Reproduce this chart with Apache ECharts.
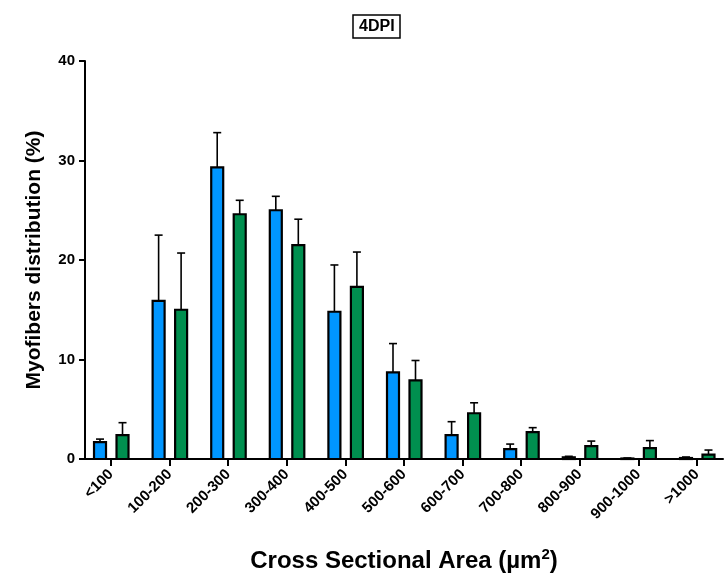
<!DOCTYPE html>
<html>
<head>
<meta charset="utf-8">
<script src="https://cdn.jsdelivr.net/npm/echarts@6/dist/echarts.min.js"></script>
<style>html,body{margin:0;padding:0;background:#fff}#c{width:727px;height:581px}</style>
</head>
<body>
<div id="c"></div>
<script>
var categories = ['<100','100-200','200-300','300-400','400-500','500-600','600-700','700-800','800-900','900-1000','>1000'];
var blueMean = [1.7, 15.9, 29.3, 25.0, 14.8, 8.7, 2.4, 1.0, 0.17, 0.05, 0.1];
var blueSD   = [0.3, 6.6, 3.5, 1.4, 4.7, 2.9, 1.35, 0.5, 0.1, 0.05, 0.1];
var greenMean = [2.4, 15.0, 24.6, 21.5, 17.3, 7.9, 4.6, 2.7, 1.3, 1.1, 0.43];
var greenSD   = [1.25, 5.7, 1.4, 2.6, 3.5, 2.0, 1.05, 0.45, 0.5, 0.75, 0.47];
var yTicks = [0, 10, 20, 30, 40];

var BLUE = '#0096FF', GREEN = '#008F4F';
var FONT = 'Liberation Sans, Arial, sans-serif';
var idx = categories.map(function(_, i){ return i; });

function makeData(mean, sd){
  return mean.map(function(v, i){ return [i, v, sd[i]]; });
}
function renderer(offset, color){
  return function(params, api){
    var k = api.value(0), v = api.value(1), e = api.value(2);
    var top = api.coord([k, v]);
    var base = api.coord([k, 0]);
    var cap = api.coord([k, v + e]);
    var cx = top[0] + offset;
    var w = 12;
    return {
      type: 'group',
      children: [
        {type: 'line', shape: {x1: cx, y1: top[1], x2: cx, y2: cap[1]}, style: {stroke: '#000', lineWidth: 1.6}},
        {type: 'line', shape: {x1: cx - 4, y1: cap[1], x2: cx + 4, y2: cap[1]}, style: {stroke: '#000', lineWidth: 1.6}},
        {type: 'rect', shape: {x: cx - w/2, y: top[1], width: w, height: base[1] - top[1]}, style: {fill: color, stroke: '#000', lineWidth: 2.2}}
      ]
    };
  };
}

var chart = echarts.init(document.getElementById('c'), null, {renderer: 'canvas'});
chart.setOption({
  animation: false,
  backgroundColor: '#fff',
  title: {
    text: '4DPI', left: 353, top: 15,
    textStyle: {fontFamily: FONT, fontWeight: 'bold', fontSize: 16, color: '#000'},
    borderColor: '#000', borderWidth: 1.5, padding: [4, 6, 3, 6]
  },
  grid: {left: 85, right: 4, top: 61, bottom: 122},
  xAxis: {
    type: 'value', min: -0.444, max: 10.444,
    axisLine: {show: true, onZero: false, lineStyle: {color: '#000', width: 2}},
    axisTick: {show: true, customValues: idx, length: 7, lineStyle: {color: '#000', width: 2}},
    axisLabel: {
      customValues: idx, rotate: 45, margin: 13,
      formatter: function(v){ return categories[Math.round(v)]; },
      fontFamily: FONT, fontWeight: 'bold', fontSize: 15, color: '#000'
    },
    splitLine: {show: false},
    name: '{a|Cross Sectional Area (µm}{s|2}{a|)}',
    nameLocation: 'middle', nameGap: 88,
    nameTextStyle: {
      rich: {
        a: {fontFamily: FONT, fontWeight: 'bold', fontSize: 24, color: '#000', lineHeight: 28},
        s: {fontFamily: FONT, fontWeight: 'bold', fontSize: 15, color: '#000', lineHeight: 28, padding: [0, 0, 12, 0]}
      }
    }
  },
  yAxis: {
    type: 'value', min: 0, max: 40, interval: 10,
    axisLine: {show: true, onZero: false, lineStyle: {color: '#000', width: 2}},
    axisTick: {show: true, length: 6, lineStyle: {color: '#000', width: 2}},
    axisLabel: {
      margin: 10,
      formatter: function(v){ return yTicks.indexOf(v) >= 0 ? String(v) : ''; },
      fontFamily: FONT, fontWeight: 'bold', fontSize: 15, color: '#000'
    },
    splitLine: {show: false},
    name: 'Myofibers distribution (%)',
    nameLocation: 'middle', nameGap: 40,
    nameTextStyle: {fontFamily: FONT, fontWeight: 'bold', fontSize: 21, color: '#000'}
  },
  series: [
    {type: 'custom', name: 'blue', data: makeData(blueMean, blueSD), renderItem: renderer(-11, BLUE), encode: {x: 0, y: 1}, clip: false},
    {type: 'custom', name: 'green', data: makeData(greenMean, greenSD), renderItem: renderer(11.5, GREEN), encode: {x: 0, y: 1}, clip: false}
  ]
});
</script>
</body>
</html>
